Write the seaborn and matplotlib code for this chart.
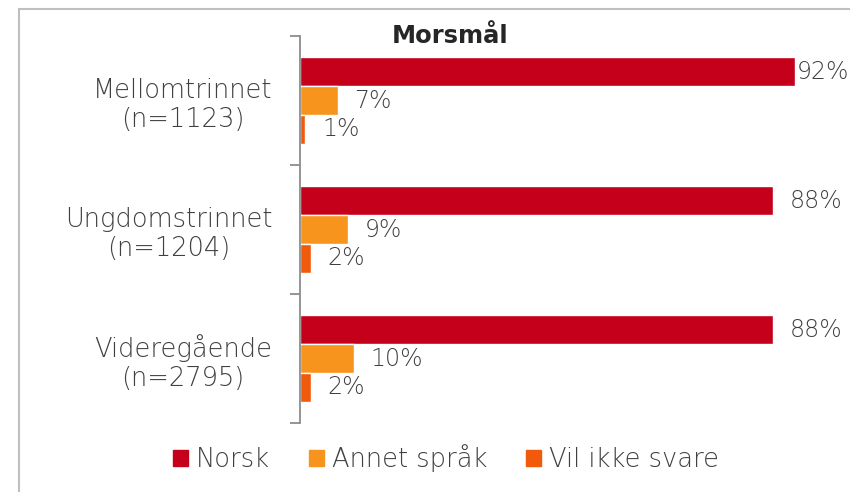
import numpy as np
import pandas as pd
import matplotlib
matplotlib.use('Agg')
import matplotlib.pyplot as plt
import seaborn as sns
from matplotlib.patches import Rectangle

sns.set_style('white')
plt.rcParams['font.family'] = ['DejaVu Sans']

# ---------- data ----------
groups = ['Mellomtrinnet\n(n=1123)', 'Ungdomstrinnet\n(n=1204)', 'Videregående\n(n=2795)']
answers = ['Norsk', 'Annet språk', 'Vil ikke svare']
norsk = [92, 88, 88]
annet = [7, 9, 10]
vil_ikke = [1, 2, 2]
palette = ['#C5001A', '#F7941D', '#F05A0A']

df = pd.DataFrame({
    'gruppe': groups * 3,
    'svar': np.repeat(answers, len(groups)),
    'andel': norsk + annet + vil_ikke,
})

TXT = '#404040'

fig = plt.figure(figsize=(8.5, 4.92), dpi=100)
ax = fig.add_axes([300 / 850, 1 - 423 / 492, 538 / 850, 387 / 492])

sns.barplot(data=df, y='gruppe', x='andel', hue='svar', hue_order=answers,
            palette=palette, orient='h', width=0.667, gap=0, saturation=1,
            legend=False, ax=ax)

# verdietiketter; den lengste stolpen får mindre luft så teksten får plass
for cont in ax.containers:
    for bar, v in zip(cont, cont.datavalues):
        pad = 1.5 if v > 90 else 12
        ax.annotate(f'{v:.0f}%', (bar.get_width(), bar.get_y() + bar.get_height() / 2),
                    xytext=(pad, 0), textcoords='offset points',
                    ha='left', va='center', fontsize=17, color=TXT,
                    fontweight='light', annotation_clip=False)

ax.set_xlim(0, 100)
ax.set_ylim(2.5, -0.5)
ax.set_xlabel('')
ax.set_ylabel('')
ax.set_xticks([])
for s in ['top', 'right', 'bottom']:
    ax.spines[s].set_visible(False)
ax.spines['left'].set_color('#8C8C8C')
ax.spines['left'].set_linewidth(1.3)

ax.set_yticks(range(len(groups)))
ax.set_yticklabels(groups, fontsize=18.5, color=TXT, fontweight='light')
for lbl in ax.get_yticklabels():
    lbl.set_multialignment('center')
ax.tick_params(axis='y', which='major', length=0, pad=20)
ax.set_yticks(np.arange(-0.5, len(groups)), minor=True)
ax.tick_params(axis='y', which='minor', left=True, length=7, width=1.3,
               color='#8C8C8C', direction='out')

fig.text(450 / 850, 1 - 36 / 492, 'Morsmål', ha='center', va='center',
         fontsize=17.5, fontweight='bold', color='#262626')

# legend
handles = [Rectangle((0, 0), 1, 1, color=c) for c in palette]
leg = fig.legend(handles, answers, ncol=3, loc='center',
                 bbox_to_anchor=(446 / 850, 1 - 458 / 492), frameon=False,
                 fontsize=18.5, labelcolor=TXT, handlelength=0.6, handleheight=0.6,
                 handletextpad=0.3, columnspacing=1.5)
for t in leg.get_texts():
    t.set_fontweight('light')

# border of the chart area
fig.add_artist(Rectangle((19 / 850, -0.1), 2, 1 - 9 / 492 + 0.1,
                         transform=fig.transFigure, fill=False,
                         edgecolor='#BFBFBF', linewidth=1.5))

fig.savefig('out.png', dpi=100)
